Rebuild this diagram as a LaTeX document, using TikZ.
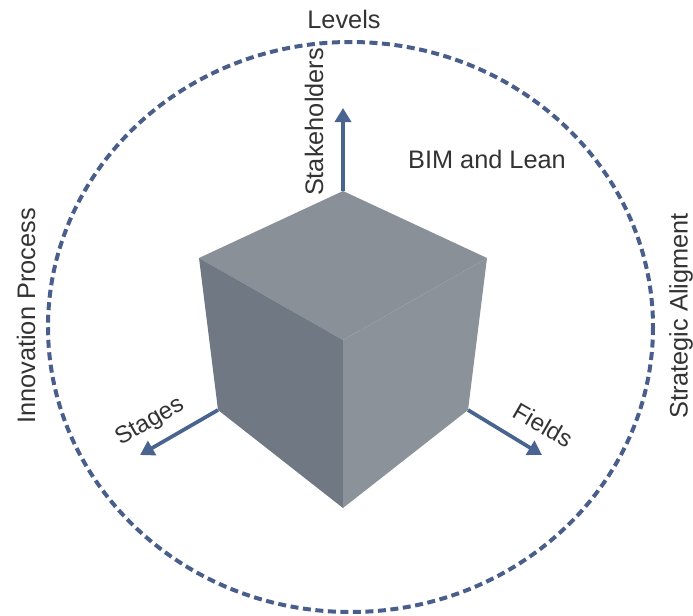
\documentclass[tikz,border=0pt]{standalone}
\usepackage{xcolor}
\usepackage{fontspec}
\setmainfont{Liberation Sans}
\usetikzlibrary{arrows.meta}
\definecolor{axisblue}{HTML}{4A6491}
\definecolor{ringblue}{HTML}{4A5E8C}
\definecolor{topgray}{HTML}{8A9097}
\definecolor{leftgray}{HTML}{707883}
\definecolor{rightgray}{HTML}{8B9299}
\definecolor{labelgray}{HTML}{333333}

\begin{document}
\begin{tikzpicture}[x=0.75pt,y=-0.75pt,
  axis/.style={draw=axisblue,line width=2.8pt,-{Triangle[length=10.5pt,width=12pt]}},
  ring/.style={draw=ringblue,line width=3pt,dash pattern=on 6pt off 3.4pt},
  lbl/.style={text=labelgray,font=\fontsize{19}{21}\selectfont,inner sep=0pt}]
\useasboundingbox (0,0) rectangle (693,615);
\draw[ring] (350.5,327) ellipse (302.5 and 285);
% axes
\coordinate (cubetop) at (343,191);
\coordinate (cubeleftlow) at (218,410);
\coordinate (cuberightlow) at (468,410);
\coordinate (tipup) at (343,108);
\coordinate (tipleft) at (140,455);
\coordinate (tipright) at (542,455);
\draw[axis] (cubetop) -- (tipup);
\draw[axis] (cubeleftlow) -- (tipleft);
\draw[axis] (cuberightlow) -- (tipright);
% cube
\coordinate (cubeleft) at (199,258);
\coordinate (cuberight) at (487,258);
\coordinate (cubefront) at (343,340);
\coordinate (cubebottom) at (343,508);
\fill[topgray] (cubetop) -- (cuberight) -- (cubefront) -- (cubeleft) -- cycle;
\fill[leftgray] (cubeleft) -- (cubefront) -- (cubebottom) -- (cubeleftlow) -- cycle;
\fill[rightgray] (cuberight) -- (cubefront) -- (cubebottom) -- (cuberightlow) -- cycle;
% labels
\node[lbl] (levels) at (344,19) {Levels};
\node[lbl] (bimlean) at (487,159) {BIM and Lean};
\node[lbl,rotate=90] (stakeholders) at (314,122) {Stakeholders};
\node[lbl,rotate=90] (innovation) at (26,316) {Innovation Process};
\node[lbl,rotate=90] (strategic) at (681,316) {Strategic Aligment};
\node[lbl,rotate=30,font=\fontsize{18}{20}\selectfont] (stages) at (150,422) {Stages};
\node[lbl,rotate=-30,font=\fontsize{18}{20}\selectfont] (fields) at (543,425) {Fields};
\end{tikzpicture}
\end{document}
